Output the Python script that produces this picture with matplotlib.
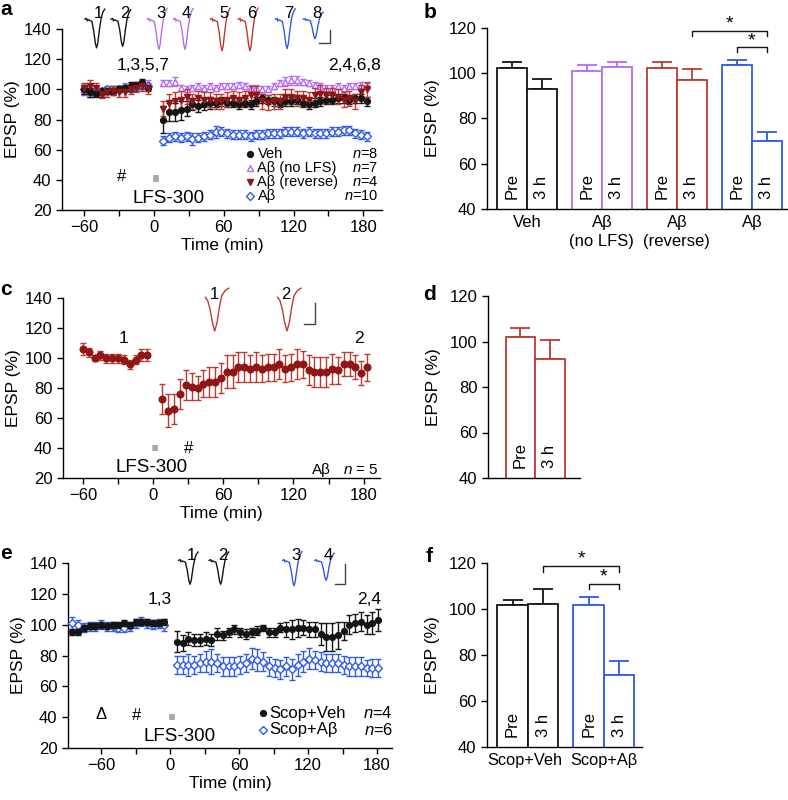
import numpy as np
import matplotlib.pyplot as plt

plt.rcParams['font.family'] = ['Liberation Sans', 'DejaVu Sans']
plt.rcParams['mathtext.fontset'] = 'custom'
plt.rcParams['mathtext.it'] = 'Liberation Sans:italic'
plt.rcParams['mathtext.rm'] = 'Liberation Sans'
plt.rcParams['font.size'] = 11.5
plt.rcParams['axes.linewidth'] = 1.0

BLACK = '#151515'
PURPLE = '#b36cf2'
RED = '#bd3a2e'
DKRED = '#901515'
BLUE = '#2f5ae8'
GRAY = '#a8a8a8'

# ---------------- time grids (min) ----------------
t_pre = [-60, -55, -50, -45, -40, -35, -30, -25, -20, -15, -10, -5]
t_post = [8, 13, 18, 23, 28, 33, 38, 43, 48, 53, 58, 63, 68, 73, 78, 83, 88, 93,
          98, 103, 108, 113, 118, 123, 128, 133, 138, 143, 148, 153, 158, 163, 168, 173, 178, 183]
t_pre_e = [-85, -80, -75, -70, -65, -60, -55, -50, -45, -40, -35, -30, -25, -20, -15, -10, -5]
t_post_e = [6, 11, 16, 21, 26, 31, 36, 41, 46, 51, 56, 61, 66, 71, 76, 81, 86, 91,
            96, 101, 106, 111, 116, 121, 126, 131, 136, 141, 146, 151, 156, 161, 166, 171, 176, 181]

# ---------------- panel a ----------------
veh_pre = [100, 98, 97, 98, 99, 99, 100, 101, 102, 103, 105, 101]
veh_pre_err = [3, 3, 2, 3, 2, 3, 2, 2, 3, 2, 2, 2]
veh_post = [80, 85, 85, 86, 87, 90, 89, 90, 91, 91, 92, 91, 91, 90, 91, 90, 92, 94,
            93, 92, 91, 92, 92, 93, 91, 90, 91, 92, 93, 93, 94, 94, 93, 94, 94, 92]
veh_post_err = [9, 6, 6, 6, 5, 4, 4, 4, 4, 3, 3, 3, 3, 3, 3, 3, 3, 3,
                3, 3, 3, 3, 3, 3, 3, 3, 3, 3, 3, 3, 3, 3, 3, 3, 3, 3]
nolfs_pre = [98, 97, 98, 97, 99, 99, 100, 102, 102, 103, 103, 104]
nolfs_pre_err = [2, 2, 2, 2, 2, 2, 2, 2, 2, 2, 2, 2]
nolfs_post = [104, 104, 105, 101, 100, 101, 102, 101, 102, 101, 102, 102, 102, 103, 102, 101, 101, 100,
              100, 102, 104, 105, 106, 106, 105, 104, 103, 102, 101, 101, 102, 101, 102, 102, 103, 102]
nolfs_post_err = [2, 2, 3, 2, 2, 2, 2, 2, 2, 2, 2, 2, 2, 2, 2, 2, 2, 2,
                  2, 2, 2, 3, 3, 3, 2, 2, 2, 2, 2, 2, 2, 2, 2, 2, 2, 2]
rev_pre = [101, 102, 101, 97, 98, 99, 98, 98, 100, 101, 102, 100]
rev_pre_err = [3, 4, 3, 3, 3, 3, 3, 3, 3, 3, 3, 3]
rev_post = [87, 91, 92, 93, 95, 92, 94, 93, 93, 92, 92, 93, 94, 93, 94, 96, 96, 92,
            91, 92, 92, 95, 95, 94, 94, 93, 96, 97, 96, 96, 95, 93, 94, 92, 98, 100]
rev_post_err = [5, 6, 6, 6, 5, 5, 5, 5, 5, 5, 5, 5, 5, 5, 5, 6, 6, 5,
                5, 5, 5, 5, 5, 5, 5, 5, 5, 6, 5, 5, 5, 5, 5, 5, 5, 5]
ab_pre = [100, 99, 98, 99, 100, 99, 100, 101, 100, 101, 102, 102]
ab_pre_err = [2, 2, 2, 2, 2, 2, 2, 2, 2, 2, 2, 2]
ab_post = [66, 68, 69, 68, 69, 67, 68, 69, 70, 72, 72, 71, 70, 70, 70, 69, 70, 70,
           71, 71, 71, 72, 72, 72, 71, 72, 71, 71, 71, 72, 72, 73, 73, 71, 70, 69]
ab_post_err = [3, 3, 3, 3, 3, 4, 3, 3, 3, 4, 3, 3, 3, 3, 3, 3, 3, 3,
               3, 3, 3, 3, 3, 3, 3, 3, 3, 3, 3, 3, 3, 3, 3, 3, 3, 3]
legend_a = ['Veh', 'A\u03b2 (no LFS)', 'A\u03b2 (reverse)', 'A\u03b2']
n_a = [8, 7, 4, 10]

# ---------------- panel b ----------------
b_groups = ['Veh', 'A\u03b2\n(no LFS)', 'A\u03b2\n(reverse)', 'A\u03b2']
b_pre = [102.3, 101.1, 102.3, 103.5]
b_pre_err = [2.5, 2.6, 2.7, 2.4]
b_3h = [93.2, 102.8, 97.2, 69.9]
b_3h_err = [4.3, 2.2, 4.8, 4.0]

# ---------------- panel c ----------------
c_pre = [106, 104, 100, 102, 100, 100, 100, 99, 96, 99, 102, 102]
c_pre_err = [4, 3, 2, 3, 3, 3, 3, 3, 3, 3, 4, 4]
c_post = [73, 65, 66, 76, 82, 81, 80, 83, 84, 84, 87, 91, 91, 94, 94, 93, 94, 93,
          94, 94, 96, 93, 94, 96, 96, 92, 91, 91, 91, 93, 92, 96, 96, 94, 90, 94]
c_post_err = [10, 11, 10, 10, 10, 9, 8, 9, 10, 10, 10, 11, 11, 10, 10, 9, 10, 9,
              9, 9, 10, 9, 9, 10, 9, 10, 10, 10, 10, 10, 9, 8, 8, 8, 8, 9]

# ---------------- panel d ----------------
d_vals = [101.9, 92.2]
d_err = [3.9, 8.5]

# ---------------- panel e ----------------
sv_pre = [95, 95, 98, 99, 99, 100, 99, 100, 100, 101, 100, 102, 102, 102, 101, 101, 102]
sv_pre_err = [2, 2, 2, 2, 2, 2, 2, 2, 2, 2, 2, 2, 2, 2, 2, 2, 2]
sv_post = [89, 88, 91, 90, 90, 91, 90, 94, 93, 95, 97, 95, 94, 95, 96, 98, 95, 95,
           98, 97, 97, 98, 98, 97, 97, 94, 92, 92, 93, 96, 100, 101, 102, 100, 101, 103]
sv_post_err = [7, 5, 4, 4, 4, 4, 4, 4, 3, 3, 3, 3, 3, 3, 3, 2, 3, 3,
               3, 5, 6, 6, 5, 5, 5, 7, 9, 9, 9, 6, 6, 6, 6, 6, 7, 7]
sa_pre = [101, 100, 98, 99, 99, 100, 99, 99, 98, 98, 99, 101, 102, 101, 100, 101, 100]
sa_pre_err = [4, 3, 3, 3, 3, 3, 3, 3, 3, 3, 3, 3, 3, 3, 3, 3, 4]
sa_post = [74, 74, 74, 74, 75, 76, 76, 75, 73, 73, 73, 74, 75, 78, 77, 76, 73, 72,
           71, 73, 71, 74, 76, 78, 77, 76, 75, 75, 75, 74, 73, 73, 73, 72, 72, 72]
sa_post_err = [6, 6, 7, 6, 6, 7, 8, 6, 6, 6, 6, 6, 6, 7, 7, 6, 6, 6,
               6, 6, 7, 7, 7, 7, 6, 6, 6, 6, 6, 6, 6, 6, 6, 5, 6, 6]
legend_e = ['Scop+Veh', 'Scop+A\u03b2']
n_e = [4, 6]

# ---------------- panel f ----------------
f_groups = ['Scop+Veh', 'Scop+A\u03b2']
f_pre = [101.6, 101.9]
f_pre_err = [2.5, 3.3]
f_3h = [102.0, 71.2]
f_3h_err = [6.8, 6.0]

# EPSP trace shapes (relative time, fraction of peak depth)
tr_x = [-10, -8.5, -8, -7, -4, -2.5, -1, 0, 1, 2.5, 4, 5.5, 7]
tr_y = [0, 0.03, -0.06, -0.02, -0.08, -0.4, -0.85, -1.0, -0.85, -0.35, 0.05, 0.25, 0.35]
trc_x = [-8, -6, -4, -2, 0, 2, 4, 6, 9, 12]
trc_y = [0, -0.1, -0.35, -0.75, -1.0, -0.75, -0.3, 0.05, 0.2, 0.27]


fig = plt.figure(figsize=(7.88, 8.0), dpi=100)


def px_axes(l, t, r, b):
    return fig.add_axes([l / 788, 1 - b / 800, (r - l) / 788, (b - t) / 800])


def clean(ax):
    ax.spines['top'].set_visible(False)
    ax.spines['right'].set_visible(False)
    ax.tick_params(which='both', direction='out', length=4, width=1, labelsize=12)


def time_axes(ax, xlim):
    clean(ax)
    ax.set_xlim(xlim)
    ax.set_ylim(20, 140)
    ax.set_xticks([-60, 0, 60, 120, 180])
    ax.set_xticklabels(['\u221260', '0', '60', '120', '180'])
    ax.set_xticks([-30, 30, 90, 150], minor=True)
    ax.set_yticks([20, 40, 60, 80, 100, 120, 140])
    ax.set_xlabel('Time (min)', fontsize=12.5, labelpad=2)
    ax.set_ylabel('EPSP (%)', fontsize=12.5, labelpad=3)


def series(ax, t, y, err, marker, mfc, mec, ecolor, ms=4.2, z=3):
    return ax.errorbar(t, y, yerr=err, fmt=marker, ms=ms, mfc=mfc, mec=mec, mew=1,
                       ecolor=ecolor, elinewidth=1, capsize=2.5, capthick=1, zorder=z)


def trace(ax, x0, base, depth, color, xs=tr_x, ys=tr_y):
    ax.plot([x0 + v for v in xs], [base + depth * v for v in ys], color=color,
            lw=1, clip_on=False)


def scale_bar(ax, x0, x1, y0, y1):
    ax.plot([x0, x1, x1], [y0, y0, y1], color='#444444', lw=1, clip_on=False)


def bars(ax, pos_pre, pos_3h, pre, pre_err, h3, h3_err, colors):
    for pos, vals, errs, lab in [(pos_pre, pre, pre_err, 'Pre'), (pos_3h, h3, h3_err, '3 h')]:
        for p, v, e, c in zip(pos, vals, errs, colors):
            ax.bar(p, v, width=1.0, color='white', edgecolor=c, lw=1.3, zorder=2)
            ax.errorbar(p, v, yerr=[[0], [e]], fmt='none', ecolor=c, elinewidth=1.3,
                        capsize=7, capthick=1.3, zorder=1)
            ax.text(p, 44.5, lab, rotation=90, ha='center', va='bottom', fontsize=12, zorder=3)


def bar_axes(ax, xlim):
    clean(ax)
    ax.set_xlim(xlim)
    ax.set_ylim(40, 120)
    ax.set_yticks([40, 60, 80, 100, 120])
    ax.set_ylabel('EPSP (%)', fontsize=12.5, labelpad=6)
    ax.tick_params(axis='x', length=0, pad=4)


def bracket(ax, x0, x1, ytop, ydrop, ystar):
    ax.plot([x0, x0, x1, x1], [ydrop, ytop, ytop, ydrop], color=BLACK, lw=1, clip_on=False)
    ax.text((x0 + x1) / 2, ystar, '*', ha='center', va='center', fontsize=14)


def legend_rows(ax, labels, ns, styles, x_key, x_txt, x_n, ys, fs):
    for lab, n, st, y in zip(labels, ns, styles, ys):
        ax.plot([x_key], [y], linestyle='none', clip_on=False, **st)
        ax.text(x_txt, y, lab, ha='left', va='center', fontsize=fs)
        ax.text(x_n, y, '$n$=%d' % n, ha='right', va='center', fontsize=fs)


# ================= panel a =================
ax = px_axes(62, 29, 382, 210)
time_axes(ax, (-79, 196))
st_veh = dict(marker='o', ms=4.2, mfc=BLACK, mec=BLACK)
st_nol = dict(marker='^', ms=4.5, mfc='white', mec=PURPLE)
st_rev = dict(marker='v', ms=4.5, mfc=DKRED, mec=DKRED)
st_ab = dict(marker='D', ms=3.6, mfc='white', mec=BLUE)
for t, v, e in [(t_pre, nolfs_pre, nolfs_pre_err), (t_post, nolfs_post, nolfs_post_err)]:
    series(ax, t, v, e, '^', 'white', PURPLE, PURPLE, ms=4.5, z=3)
for t, v, e in [(t_pre, ab_pre, ab_pre_err), (t_post, ab_post, ab_post_err)]:
    series(ax, t, v, e, 'D', 'white', BLUE, BLUE, ms=3.6, z=3)
for t, v, e in [(t_pre, veh_pre, veh_pre_err), (t_post, veh_post, veh_post_err)]:
    series(ax, t, v, e, 'o', BLACK, BLACK, BLACK, ms=4.2, z=4)
for t, v, e in [(t_pre, rev_pre, rev_pre_err), (t_post, rev_post, rev_post_err)]:
    series(ax, t, v, e, 'v', DKRED, DKRED, RED, ms=4.5, z=4)
ax.text(-9, 115.5, '1,3,5,7', ha='center', va='center', fontsize=12.5)
ax.text(172, 115.5, '2,4,6,8', ha='center', va='center', fontsize=12.5)
ax.text(-28, 42, '#', ha='center', va='center', fontsize=12)
ax.plot([1.8, 1.8], [38.8, 43.3], color=GRAY, lw=4, solid_capstyle='butt')
ax.text(13, 27.3, 'LFS-300', ha='center', va='center', fontsize=13.5)
legend_rows(ax, legend_a, n_a, [st_veh, st_nol, st_rev, st_ab], 82.5, 89, 193,
            [57, 47.7, 38.3, 29], 10.5)
# traces
a_spikes = [-49.3, -26.9, 4.3, 26.7, 58.5, 82.5, 114.4, 138.4]
a_depths = [19, 18, 20, 20, 21, 21, 19.5, 13]
a_cols = [BLACK, BLACK, PURPLE, PURPLE, RED, RED, BLUE, BLUE]
for i, (x0, depth, col) in enumerate(zip(a_spikes, a_depths, a_cols)):
    trace(ax, x0, 146.5, depth, col)
    ax.text(x0 + 1.5, 150.5, str(i + 1), ha='center', va='center', fontsize=12)
scale_bar(ax, 142, 151.3, 130.7, 139.3)

# ================= panel b =================
ax = px_axes(487, 28, 787, 209)
bar_axes(ax, (-0.83, 9.17))
bars(ax, [0, 2.5, 5, 7.5], [1, 3.5, 6, 8.5], b_pre, b_pre_err, b_3h, b_3h_err,
     [BLACK, PURPLE, RED, BLUE])
ax.set_xticks([0.5, 3.0, 5.5, 8.0])
ax.set_xticklabels(b_groups, fontsize=12, linespacing=1.35, va='top')
bracket(ax, 6, 8.5, 118.5, 116.3, 121.8)
bracket(ax, 7.5, 8.5, 111.5, 109.3, 114.3)

# ================= panel c =================
ax = px_axes(63, 298, 380, 478)
time_axes(ax, (-77, 194))
series(ax, t_pre, c_pre, c_pre_err, 'o', DKRED, DKRED, RED, ms=4.8)
series(ax, t_post, c_post, c_post_err, 'o', DKRED, DKRED, RED, ms=4.8)
ax.text(-25.4, 113.3, '1', ha='center', va='center', fontsize=12.5)
ax.text(176, 113.3, '2', ha='center', va='center', fontsize=12.5)
ax.text(30.6, 39.5, '#', ha='center', va='center', fontsize=12)
ax.plot([1.8, 1.8], [37.8, 42.2], color=GRAY, lw=4, solid_capstyle='butt')
ax.text(-1, 27.3, 'LFS-300', ha='center', va='center', fontsize=13.5)
ax.text(144, 25.5, 'A\u03b2', ha='center', va='center', fontsize=11)
ax.text(193, 25.5, '$n$ = 5', ha='right', va='center', fontsize=11)
for x0 in [52.7, 114.5]:
    trace(ax, x0, 140.5, 22.5, RED, trc_x, trc_y)
ax.text(52, 142.5, '1', ha='center', va='center', fontsize=12)
ax.text(113.5, 142.5, '2', ha='center', va='center', fontsize=12)
scale_bar(ax, 128.8, 138.6, 123, 137)

# ================= panel d =================
ax = px_axes(488, 296, 580, 478)
bar_axes(ax, (-1.1, 2.02))
bars(ax, [0], [1], [d_vals[0]], [d_err[0]], [d_vals[1]], [d_err[1]], [RED])
ax.set_xticks([])

# ================= panel e =================
ax = px_axes(68, 563, 392, 748)
time_axes(ax, (-88.7, 193))
st_sv = dict(marker='o', ms=4.2, mfc=BLACK, mec=BLACK)
st_sa = dict(marker='D', ms=3.6, mfc='white', mec=BLUE)
series(ax, t_pre_e, sa_pre, sa_pre_err, 'D', 'white', BLUE, BLUE, ms=3.6)
series(ax, t_post_e, sa_post, sa_post_err, 'D', 'white', BLUE, BLUE, ms=3.6)
series(ax, t_pre_e, sv_pre, sv_pre_err, 'o', BLACK, BLACK, BLACK, z=4)
series(ax, t_post_e, sv_post, sv_post_err, 'o', BLACK, BLACK, BLACK, z=4)
ax.text(-9.3, 116.3, '1,3', ha='center', va='center', fontsize=12.5)
ax.text(173, 116.3, '2,4', ha='center', va='center', fontsize=12.5)
ax.text(-60, 41.5, '\u0394', ha='center', va='center', fontsize=12)
ax.text(-29, 41, '#', ha='center', va='center', fontsize=12)
ax.plot([1.8, 1.8], [38.3, 41.8], color=GRAY, lw=4, solid_capstyle='butt')
ax.text(8.7, 27.3, 'LFS-300', ha='center', va='center', fontsize=13.5)
legend_rows(ax, legend_e, n_e, [st_sv, st_sa], 81, 86, 194, [42.6, 31.8], 12)
e_spikes = [17.4, 44, 107.8, 135.7]
e_depths = [15.5, 15.5, 16.5, 13]
e_cols = [BLACK, BLACK, BLUE, BLUE]
for i, (x0, depth, col) in enumerate(zip(e_spikes, e_depths, e_cols)):
    trace(ax, x0, 141.7, depth, col)
    ax.text(x0 + 1.5, 145, str(i + 1), ha='center', va='center', fontsize=12)
scale_bar(ax, 143.5, 152, 126.6, 139.6)

# ================= panel f =================
ax = px_axes(487, 563, 642, 747)
bar_axes(ax, (-0.84, 4.25))
bars(ax, [0, 2.5], [1, 3.5], f_pre, f_pre_err, f_3h, f_3h_err, [BLACK, BLUE])
ax.set_xticks([0.4, 3.0])
ax.set_xticklabels(f_groups, fontsize=11.8)
bracket(ax, 1, 3.5, 118.6, 116.1, 121.9)
bracket(ax, 2.5, 3.5, 110.7, 108.5, 113.9)

# panel letters
for lab, x, y in [('a', 6, 0), ('b', 430, 3), ('c', 6, 280), ('d', 430, 285),
                  ('e', 6, 544), ('f', 429, 547)]:
    fig.text(x / 788, 1 - y / 800, lab, fontsize=15, fontweight='bold', ha='center', va='top')

fig.savefig('out.png', dpi=100)
